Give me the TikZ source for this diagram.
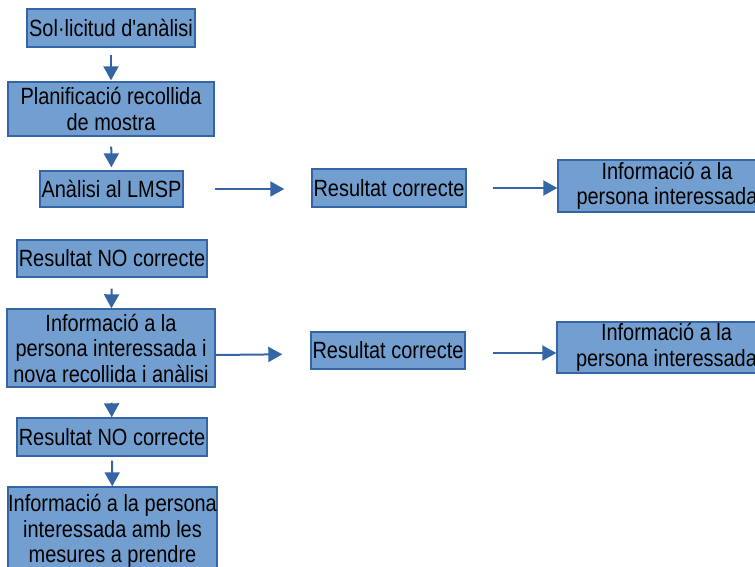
\documentclass[tikz,border=0pt]{standalone}
\usepackage{fontspec}
\setmainfont{Liberation Sans}[FakeStretch=0.85, Ligatures=TeXOff]
\usetikzlibrary{arrows.meta}
\definecolor{boxfill}{HTML}{729FCF}
\definecolor{boxline}{HTML}{3465A4}
\tikzset{
  stepbox/.style={draw=boxline, fill=boxfill, line width=1.4pt, inner sep=0pt,
    align=center, font=\fontsize{23.5}{25.5}\selectfont, text=black},
  arr/.style={draw=boxline, line width=2pt,
    -{Triangle[length=14pt,width=15pt]}},
}
\begin{document}
\begin{tikzpicture}[x=1pt,y=-1pt]
\useasboundingbox (0,0) rectangle (755,566);
\node[stepbox, minimum width=168pt, minimum height=38pt] (b1) at (111,28) {Sol·licitud d'anàlisi};
\node[stepbox, minimum width=206pt, minimum height=54pt] (b2) at (111,109) {Planificació recollida\\de mostra};
\node[stepbox, minimum width=143pt, minimum height=36pt] (b3) at (111.5,189) {Anàlisi al LMSP};
\node[stepbox, minimum width=154pt, minimum height=38pt] (r1) at (389,188) {Resultat correcte};
\node[stepbox, minimum width=218pt, minimum height=52pt] (i1) at (667,186) {Informació a la\\persona interessada};
\node[stepbox, minimum width=190pt, minimum height=37pt] (n1) at (112,258.5) {Resultat NO correcte};
\node[stepbox, minimum width=208pt, minimum height=78pt] (i2) at (111,348) {Informació a la\\persona interessada i\\nova recollida i anàlisi};
\node[stepbox, minimum width=154pt, minimum height=37pt] (r2) at (388,350.5) {Resultat correcte};
\node[stepbox, minimum width=219pt, minimum height=51pt] (i3) at (666.5,347.5) {Informació a la\\persona interessada};
\node[stepbox, minimum width=190pt, minimum height=38pt] (n2) at (112,437) {Resultat NO correcte};
\node[stepbox, minimum width=207pt, minimum height=88pt] (f) at (112.5,531) {Informació a la persona\\interessada amb les\\mesures a prendre};

\draw[arr, shorten <=7pt, shorten >=1pt] (b1) -- (b2);
\draw[arr, shorten <=10pt, shorten >=3pt] (b2) -- (b3);
\draw[arr, shorten <=31pt, shorten >=27pt] (b3.east) -- (b3.east -| r1.west);
\draw[arr, shorten <=26pt] (r1.east) -- (r1.east -| i1.west);
\draw[arr, shorten <=11pt] (n1) -- (i2);
\draw[arr, shorten >=28pt] ([yshift=-7pt]i2.east) -- ([yshift=-3.5pt]r2.west);
\draw[arr, shorten <=27pt] ([yshift=-2.5pt]r2.east) -- ([yshift=-2.5pt]r2.east -| i3.west);
\draw[arr, shorten <=15pt] (i2) -- (n2);
\draw[arr, shorten <=4pt] (n2) -- (f);
\end{tikzpicture}
\end{document}
